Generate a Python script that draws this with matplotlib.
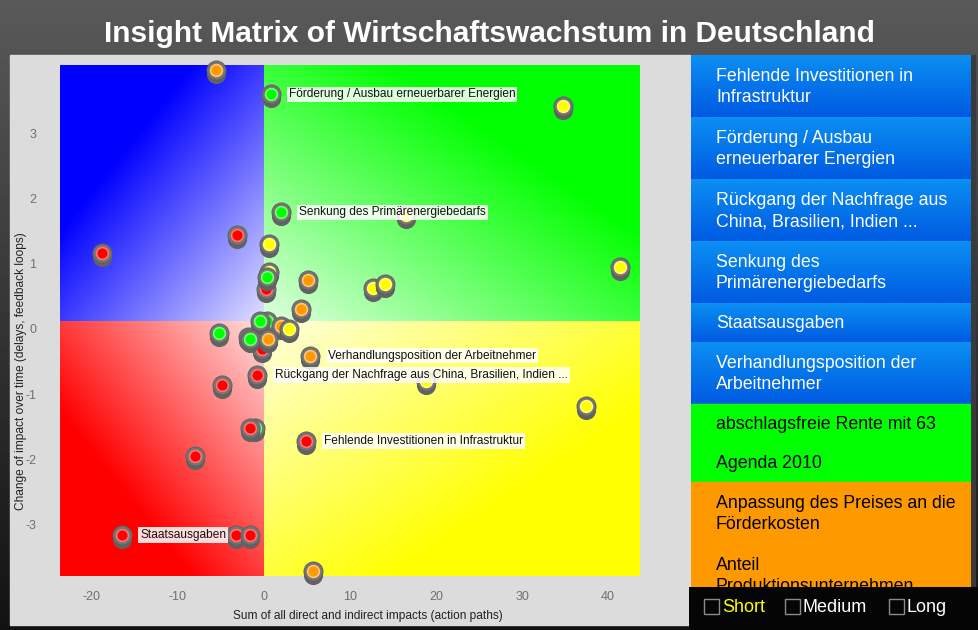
import numpy as np
import matplotlib
matplotlib.use('Agg')
import matplotlib.pyplot as plt
from matplotlib.patches import Rectangle
from matplotlib import transforms

plt.rcParams['font.family'] = ['Liberation Sans', 'DejaVu Sans']
plt.rcParams['axes.unicode_minus'] = False

impact_sum = [-5.6, 0.8, 34.8, 16.5, 2.0, -18.8, -3.1, 0.6, 0.2, 0.6, 0.35, 5.1, 4.3,
              41.4, 12.7, 14.1, -0.2, -1.8, 0.3, -0.5, -1.6, 2.0, 2.9, 0.5, -5.2, 5.4,
              18.8, -0.8, -4.9, 37.4, -1.0, -1.6, 4.9, -8.0, -16.5, -3.3, -1.6, 5.7]
impact_change = [3.97, 3.60, 3.42, 1.75, 1.79, 1.17, 1.44, 1.30, 0.62, 0.88, 0.80, 0.75, 0.30,
                 0.95, 0.63, 0.69, -0.30, -0.12, 0.12, 0.13, -0.16, 0.04, 0.0, -0.15, -0.06, -0.41,
                 -0.80, -0.71, -0.86, -1.18, -1.52, -1.52, -1.72, -1.95, -3.16, -3.16, -3.16, -3.71]
point_group = ['orange', 'green', 'yellow', 'yellow', 'green', 'red', 'red', 'yellow', 'red',
               'yellow', 'green', 'orange', 'orange', 'yellow', 'yellow', 'yellow', 'red', 'red',
               'green', 'green', 'green', 'orange', 'yellow', 'orange', 'green', 'orange',
               'yellow', 'red', 'red', 'yellow', 'green', 'red', 'red', 'red', 'red', 'red',
               'red', 'orange']
point_label = {1: 'Förderung / Ausbau erneuerbarer Energien',
               4: 'Senkung des Primärenergiebedarfs',
               25: 'Verhandlungsposition der Arbeitnehmer',
               27: 'Rückgang der Nachfrage aus China, Brasilien, Indien ...',
               32: 'Fehlende Investitionen in Infrastruktur',
               34: 'Staatsausgaben'}

x_ticks = [-20, -10, 0, 10, 20, 30, 40]
y_ticks = [-3, -2, -1, 0, 1, 2, 3]
x_split, y_split = 0, 0.12

legend_texts = ['Fehlende Investitionen in\nInfrastruktur',
                'Förderung / Ausbau\nerneuerbarer Energien',
                'Rückgang der Nachfrage aus\nChina, Brasilien, Indien ...',
                'Senkung des\nPrimärenergiebedarfs',
                'Staatsausgaben',
                'Verhandlungsposition der\nArbeitnehmer',
                'abschlagsfreie Rente mit 63',
                'Agenda 2010',
                'Anpassung des Preises an die\nFörderkosten',
                'Anteil\nProduktionsunternehmen']
legend_group = ['blue'] * 6 + ['green'] * 2 + ['orange'] * 2

duration_names = ['Short', 'Medium', 'Long']
duration_colors = ['#ffff00', 'white', 'white']

group_colors = {'red': '#ff0000', 'green': '#00ff00', 'yellow': '#ffff00', 'orange': '#ff9900'}

W, H = 979, 630
fig = plt.figure(figsize=(W / 100, H / 100), dpi=100)

# dark page background
bg = fig.add_axes([0, 0, 1, 1], zorder=-10)
grad = np.linspace(0.35, 0.07, 200)[:, None] * np.ones((200, 2))
bg.imshow(grad, cmap='gray', vmin=0, vmax=1, aspect='auto', extent=[0, 1, 0, 1])
bg.set_axis_off()
bg.add_patch(Rectangle((10 / W, 1 - 625 / H), 680 / W, 570 / H,
                       transform=bg.transAxes, color='#dcdcdc', zorder=5))
bg.add_patch(Rectangle((971 / W, 1 - 587 / H), 4 / W, 532 / H,
                       transform=bg.transAxes, color='#3a3a3a', zorder=5))

fig.text(0.5, 1 - 34 / H, 'Insight Matrix of Wirtschaftswachstum in Deutschland',
         ha='center', va='center', color='white', fontsize=21.5, fontweight='bold')

# --- scatter matrix ---
ax = fig.add_axes([60 / W, 1 - 576 / H, 580 / W, 511 / H])
xmin, xmax, ymin, ymax = -23.7, 43.7, -3.79, 4.05

gx = np.linspace(xmin, xmax, 800)
gy = np.linspace(ymin, ymax, 600)
X, Y = np.meshgrid(gx, gy)
u = np.where(X < x_split, (x_split - X) / (x_split - xmin), (X - x_split) / (xmax - x_split))
v = np.where(Y < y_split, (y_split - Y) / (y_split - ymin), (Y - y_split) / (ymax - y_split))
t = np.clip(0.12 + 1.3 * (u + v) / 2, 0, 1)
base = np.zeros(X.shape + (3,))
base[(X < x_split) & (Y >= y_split)] = (0, 0, 1)
base[(X >= x_split) & (Y >= y_split)] = (0, 1, 0)
base[(X < x_split) & (Y < y_split)] = (1, 0, 0)
base[(X >= x_split) & (Y < y_split)] = (1, 1, 0)
img = 1 - t[..., None] * (1 - base)
ax.imshow(img, extent=[xmin, xmax, ymin, ymax], origin='lower', aspect='auto',
          interpolation='nearest', zorder=0)

shadow = transforms.offset_copy(ax.transData, fig=fig, x=0, y=-4, units='dots')
for i, (x, y, g) in enumerate(zip(impact_sum, impact_change, point_group)):
    z = 2 + i * 0.01
    c = np.array(matplotlib.colors.to_rgb(group_colors[g]))
    ring = 0.55 * c + 0.45
    ax.scatter([x], [y], s=190, color='#626262', linewidths=0, transform=shadow,
               zorder=z, clip_on=False)
    ax.scatter([x], [y], s=190, color='#747474', edgecolors='#5e5e5e', linewidths=0.6,
               zorder=z + 0.002, clip_on=False)
    ax.scatter([x], [y], s=72, color=c, edgecolors=[ring], linewidths=1.2,
               zorder=z + 0.004, clip_on=False)

for i, txt in point_label.items():
    ax.annotate(txt, (impact_sum[i], impact_change[i]), xytext=(13, 0),
                textcoords='offset points', va='center', ha='left', fontsize=8.6,
                color='#111111', zorder=10,
                bbox=dict(boxstyle='square,pad=0.15', fc='white', ec='none', alpha=0.85))

ax.set_xlim(xmin, xmax)
ax.set_ylim(ymin, ymax)
ax.set_xticks(x_ticks)
ax.set_yticks(y_ticks)
ax.tick_params(length=0, labelsize=9, labelcolor='#707070')
ax.tick_params(axis='x', pad=11)
ax.tick_params(axis='y', pad=17)
for s in ax.spines.values():
    s.set_visible(False)
ax.set_xlabel('Sum of all direct and indirect impacts (action paths)', fontsize=8.6, color='#222222')
ax.set_ylabel('Change of impact over time (delays, feedback loops)', fontsize=8.6, color='#222222')
ax.xaxis.set_label_coords(0.531, -0.066)
ax.yaxis.set_label_coords(-0.057, 0.40)

# --- legend list on the right ---
lg = fig.add_axes([691 / W, 1 - 587 / H, 280 / W, 532 / H])
lg.set_axis_off()
blue_grad = np.array([matplotlib.colors.to_rgb('#0b8ff2'), matplotlib.colors.to_rgb('#005ae2')])
blue_img = np.linspace(0, 1, 60)[:, None, None] * (blue_grad[1] - blue_grad[0]) + blue_grad[0]
top = 0
for txt, g in zip(legend_texts, legend_group):
    h = 62 if '\n' in txt else 39
    if g == 'blue':
        lg.imshow(blue_img, extent=[0, 280, top + h, top], aspect='auto', zorder=1)
        tc = 'white'
    else:
        lg.add_patch(Rectangle((0, top), 280, h, color='#00ff00' if g == 'green' else '#ff9900',
                               zorder=1))
        tc = 'black'
    lg.text(25, top + h / 2 + 1, txt, va='center', ha='left', fontsize=12.8, color=tc,
            linespacing=1.35, zorder=3, clip_on=True)
    top += h
lg.set_xlim(0, 280)
lg.set_ylim(532, 0)

# --- duration filter bar ---
bar = fig.add_axes([689 / W, 0, 290 / W, 43 / H])
bar.set_xlim(0, 290)
bar.set_ylim(43, 0)
bar.set_facecolor('#050505')
for s in bar.spines.values():
    s.set_visible(False)
bar.set_xticks([])
bar.set_yticks([])
box_x = [15, 96, 200]
for bx, name, col in zip(box_x, duration_names, duration_colors):
    bar.add_patch(Rectangle((bx, 12), 15, 15, fill=False, ec='#8a8a8a', lw=1))
    bar.text(bx + 18, 20, name, va='center', ha='left', fontsize=13, color=col)

fig.savefig('out.png', dpi=100)
